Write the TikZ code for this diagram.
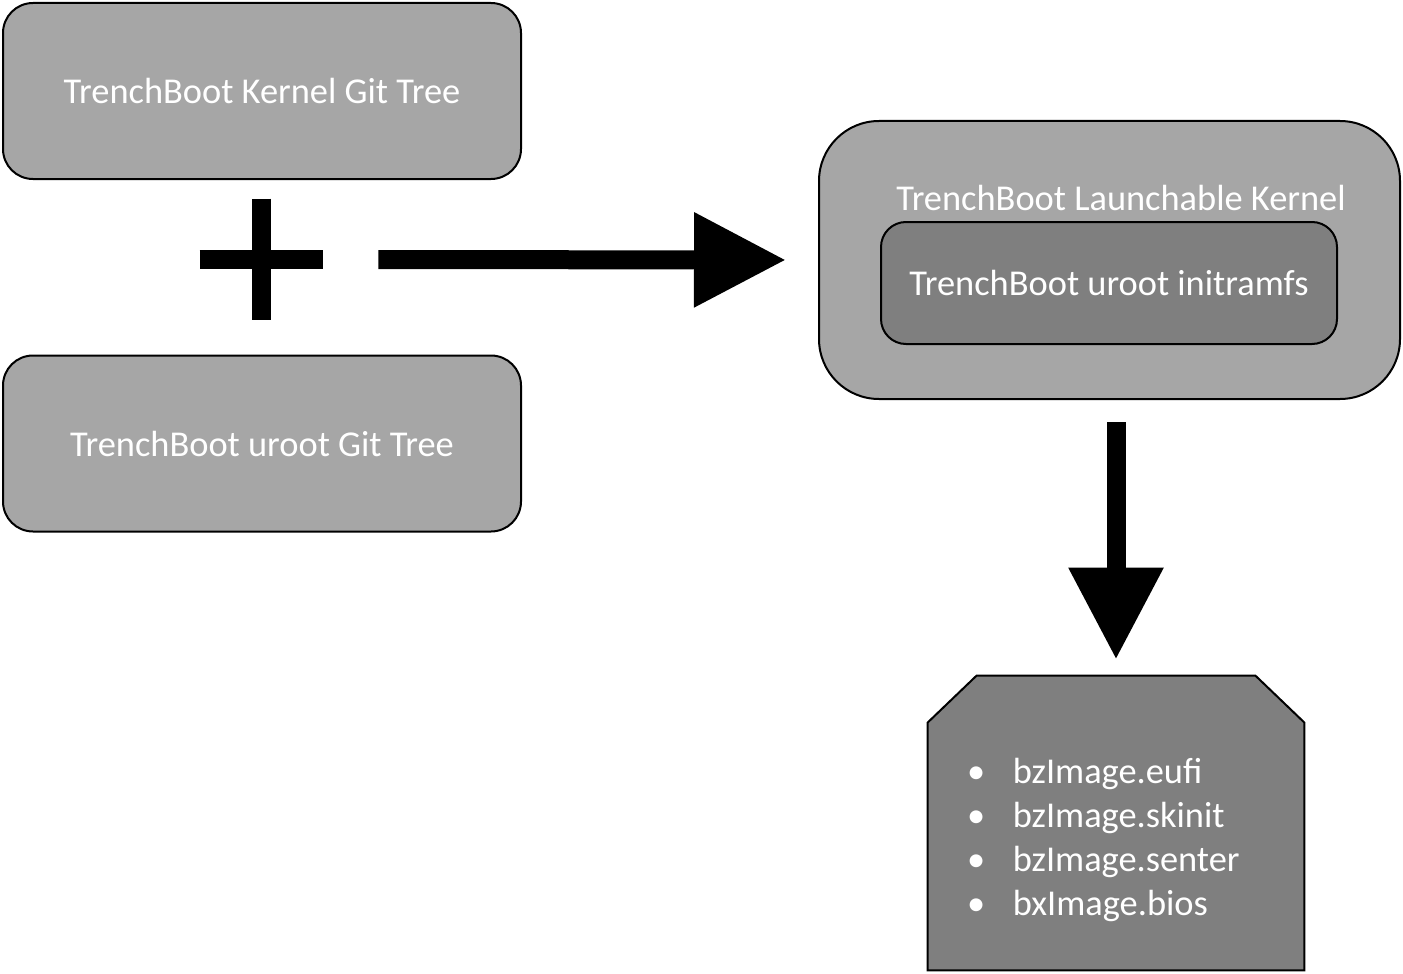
\documentclass[tikz,border=0pt]{standalone}
\usepackage{fontspec}
\setmainfont{Carlito}
\usetikzlibrary{arrows.meta,positioning}
\definecolor{lightbox}{HTML}{A6A6A6}
\definecolor{darkbox}{HTML}{7F7F7F}
\begin{document}
\begin{tikzpicture}[x=0.5pt,y=-0.5pt,
        boxtext/.style={text=white,font=\fontsize{18.2}{22}\selectfont},
        treebox/.style={boxtext,draw=black,line width=1pt,fill=lightbox,rounded corners=15pt,minimum width=259pt,minimum height=88pt},
        bigarrow/.style={line width=9.5pt,-{Triangle[length=46pt,width=45pt]}}]
            \useasboundingbox (0,0) rectangle (1403,974);
            % the two source trees
            \node[treebox] (kernel) at (262,91) {TrenchBoot Kernel Git Tree};
            \node[treebox] (uroot) at (262,443.5) {TrenchBoot uroot Git Tree};
            \node[minimum width=61.5pt,minimum height=60.5pt,inner sep=0pt] (plus) at (261.5,259.5) {};
            \draw[line width=9.5pt] (plus.west) -- (plus.east);
            \draw[line width=9.5pt] (plus.north) -- (plus.south);
            % the launchable kernel
            \node[draw=black,line width=1pt,fill=lightbox,rounded corners=30pt,minimum width=290.5pt,minimum height=139pt] (launch) at (1109.5,260) {};
            \node[boxtext] (launchlabel) at (1121,198) {TrenchBoot Launchable Kernel};
            \node[boxtext,draw=black,line width=1pt,fill=darkbox,rounded corners=12.5pt,minimum width=228pt,minimum height=61pt] (initramfs) at (1109,283) {TrenchBoot uroot initramfs};
            % the images
            \node[minimum width=188pt,minimum height=147pt,inner sep=0pt] (images) at (1116,823) {};
            \filldraw[draw=black,line width=1pt,fill=darkbox] (images.south west) -- ([yshift=-23.5pt]images.north west)
                -- ([xshift=24.5pt]images.north west) -- ([xshift=-24.5pt]images.north east)
                -- ([yshift=-23.5pt]images.north east) -- (images.south east) -- cycle;
            \node[boxtext,align=left,anchor=west,inner sep=0pt] (names) at ([xshift=19.5pt,yshift=-8.5pt]images.west)
                {\makebox[23pt][l]{\textbullet}bzImage.eufi\\
                 \makebox[23pt][l]{\textbullet}bzImage.skinit\\
                 \makebox[23pt][l]{\textbullet}bzImage.senter\\
                 \makebox[23pt][l]{\textbullet}bxImage.bios};
            \draw[bigarrow,shorten <=27.5pt,shorten >=16pt] (plus.east) -- (launch.west);
            \draw[bigarrow,shorten <=11pt,shorten >=8pt] (launch.south -| images.north) -- (images.north);
        \end{tikzpicture}
\end{document}
